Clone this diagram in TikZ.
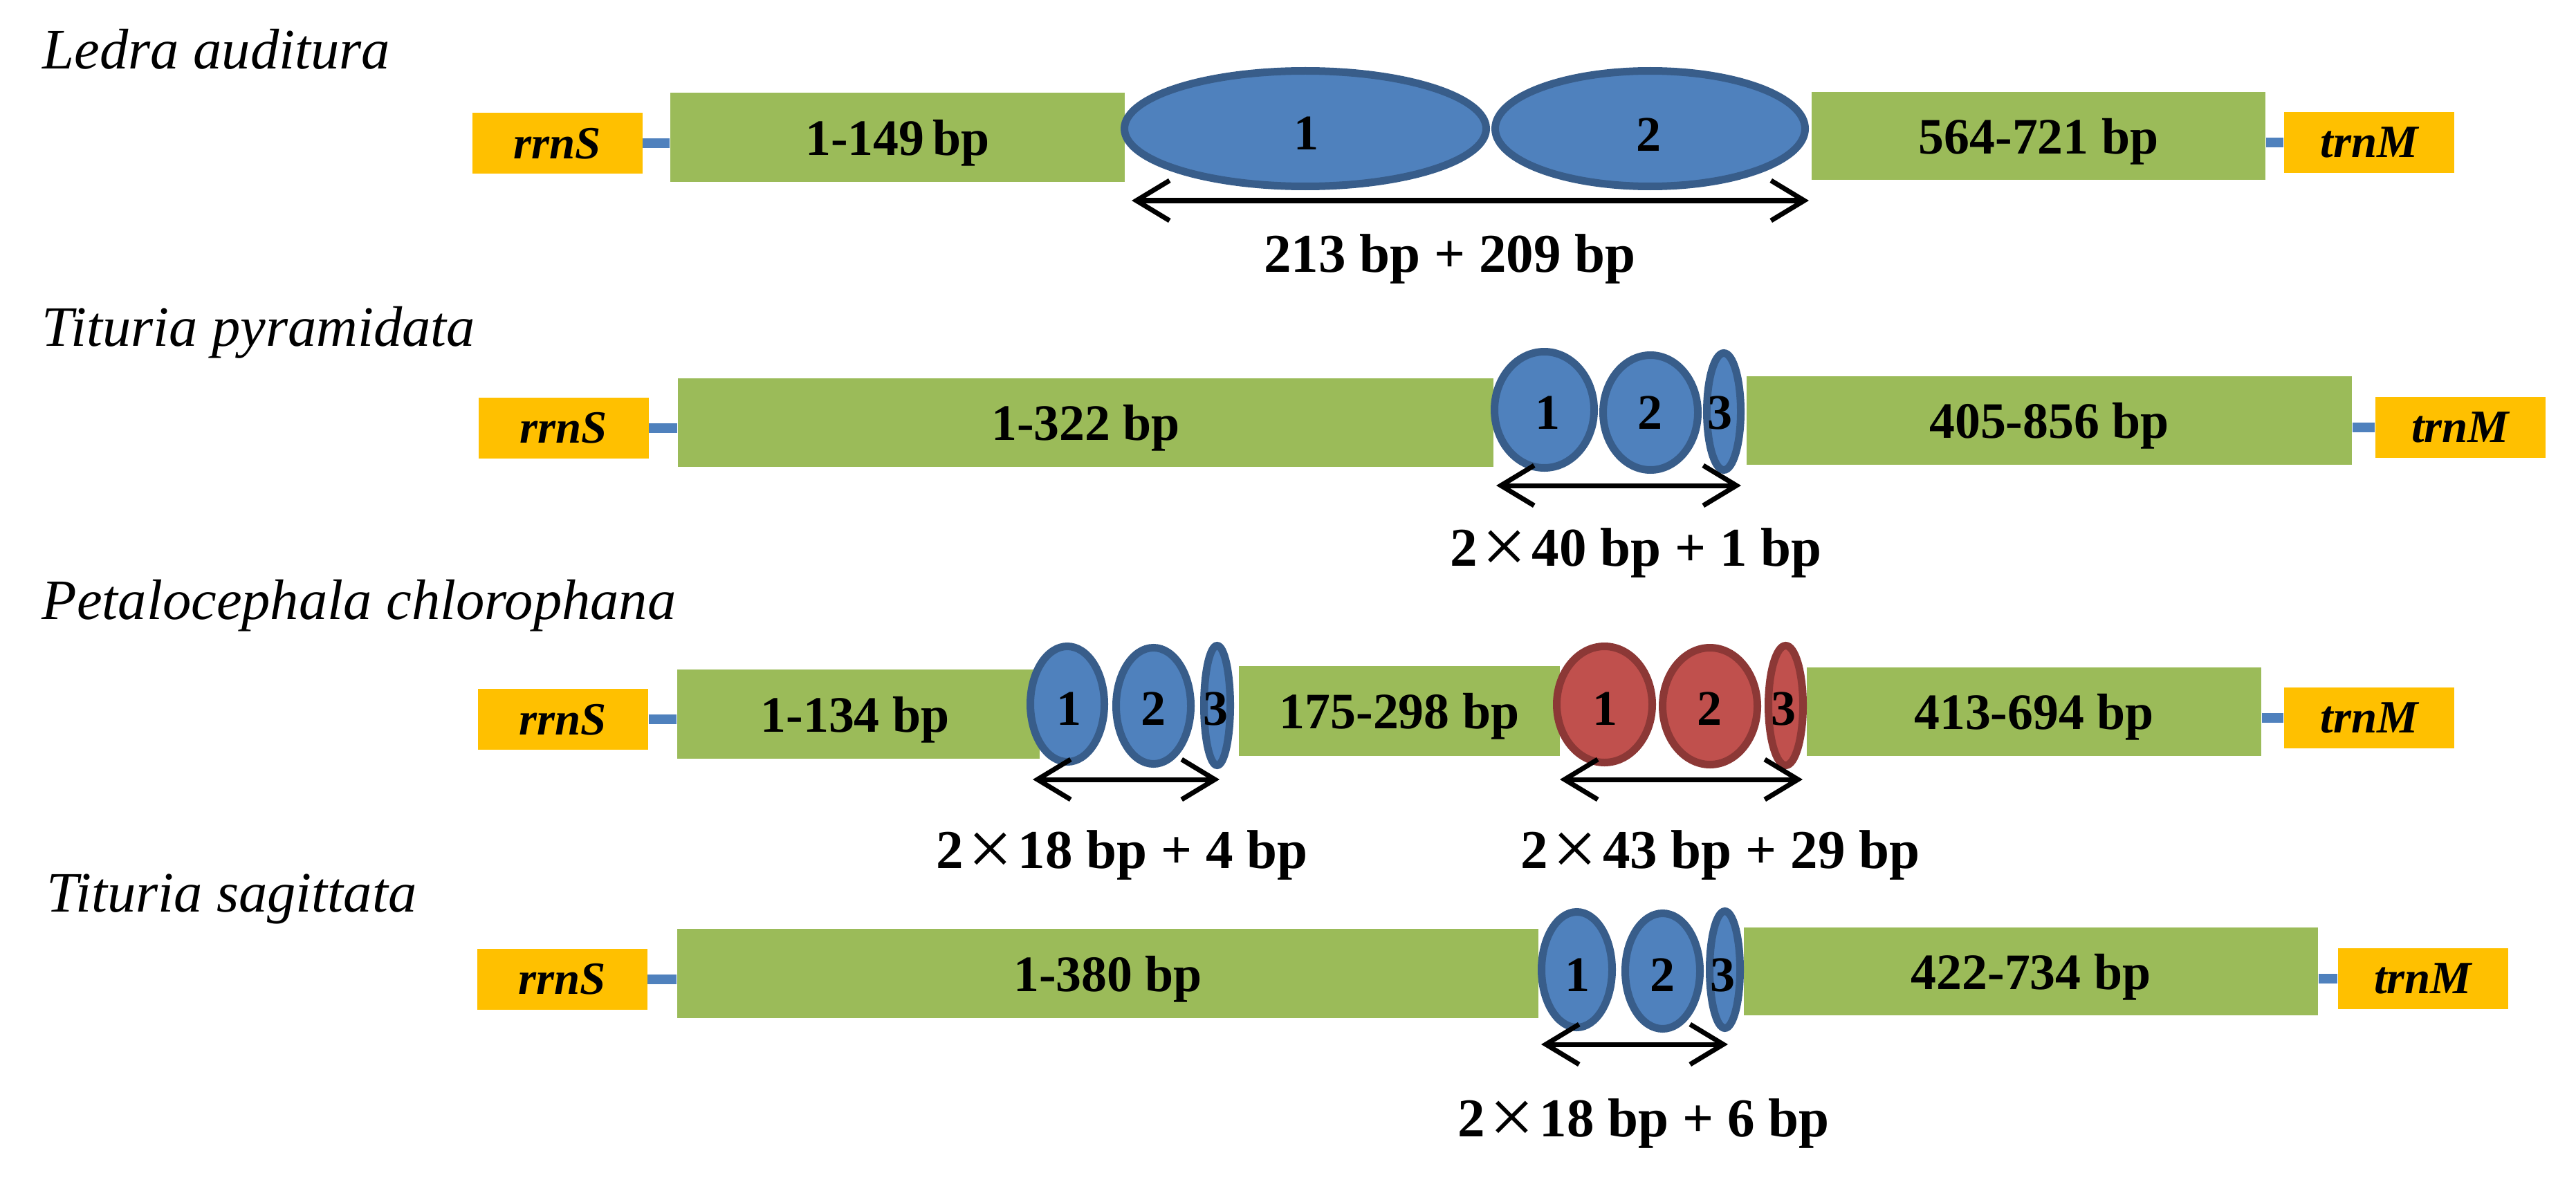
\documentclass[tikz,border=0pt]{standalone}
\usepackage{fontspec}
\setmainfont{Liberation Serif}
\usetikzlibrary{shapes.geometric,arrows.meta}
\definecolor{gfill}{HTML}{9BBB59}
\definecolor{yfill}{HTML}{FFC000}
\definecolor{bfill}{HTML}{4F81BD}
\definecolor{bline}{HTML}{385D8A}
\definecolor{rfill}{HTML}{C0504D}
\definecolor{rline}{HTML}{8C3836}
\tikzset{
  gbox/.style={rectangle, fill=gfill, draw=none, inner sep=0pt, text depth=0pt,
    font=\fontsize{21}{21}\selectfont\bfseries},
  gene/.style={rectangle, fill=yfill, draw=none, inner sep=0pt, text depth=0pt,
    minimum width=2.46cm, minimum height=0.88cm,
    font=\fontsize{19}{19}\selectfont\bfseries\itshape},
  rep/.style={ellipse, fill=bfill, draw=bline, line width=0.11cm, inner sep=0pt},
  redrep/.style={rep, fill=rfill, draw=rline},
  num/.style={inner sep=0pt, text depth=0pt, font=\fontsize{20.5}{20.5}\selectfont\bfseries},
  link/.style={draw=bfill, line width=0.14cm},
  dimarrow/.style={line width=0.07cm,
    {Straight Barb[length=0.48cm,width=0.58cm]}-{Straight Barb[length=0.48cm,width=0.58cm]}},
  title/.style={anchor=base west, inner sep=0pt, font=\fontsize{23.5}{23.5}\selectfont\itshape},
  dimlab/.style={anchor=base, inner sep=0pt, font=\fontsize{22.5}{22.5}\selectfont\bfseries}
}
\newcommand{\tms}{\hspace{0.08em}\raisebox{-0.13em}{\scalebox{1.45}{\mdseries ×}}\hspace{0.1em}}
\begin{document}
\begin{tikzpicture}[x=1cm,y=-1cm]
\useasboundingbox (0,0) rectangle (37.24,17.09);

% ---------------- Row 1: Ledra auditura ----------------
\node[title] (t1) at (0.61,1.00) {Ledra auditura};
\node[gbox, minimum width=6.57cm, minimum height=1.29cm] (g11) at (12.975,1.985) {1-149\,bp};
\node[gbox, minimum width=6.56cm, minimum height=1.27cm] (g12) at (29.47,1.965) {564-721 bp};
\node[gene] (rs1) at (8.055,2.07) {rrnS};
\node[gene] (tm1) at (34.25,2.06) {trnM};
\draw[link] (rs1.east) -- (rs1.east -| g11.west);
\draw[link] (tm1.west -| g12.east) -- (tm1.west);
\node[rep, minimum width=5.23cm, minimum height=1.67cm] (e11) at (18.87,1.86) {};
\node[rep, minimum width=4.48cm, minimum height=1.67cm] (e12) at (23.855,1.86) {};
\node[num] (n11) at (18.88,1.93) {1};
\node[num] (n12) at (23.83,1.95) {2};
\coordinate (a1l) at (16.36,2.90);
\coordinate (a1r) at (26.15,2.90);
\draw[dimarrow] (a1l) -- (a1r);
\node[dimlab] (d1) at (20.96,3.93) {213 bp + 209 bp};

% ---------------- Row 2: Tituria pyramidata ----------------
\node[title] (t2) at (0.60,5.00) {Tituria pyramidata};
\node[gbox, minimum width=11.79cm, minimum height=1.28cm] (g21) at (15.695,6.11) {1-322 bp};
\node[gbox, minimum width=8.75cm, minimum height=1.28cm] (g22) at (29.625,6.08) {405-856 bp};
\node[gene] (rs2) at (8.145,6.185) {rrnS};
\node[gene] (tm2) at (35.565,6.175) {trnM};
\draw[link] (rs2.east) -- (rs2.east -| g21.west);
\draw[link] (tm2.west -| g22.east) -- (tm2.west);
\node[rep, minimum width=1.44cm, minimum height=1.68cm] (e21) at (22.325,5.925) {};
\node[rep, minimum width=1.37cm, minimum height=1.66cm] (e22) at (23.86,5.965) {};
\node[rep, minimum width=0.49cm, minimum height=1.69cm] (e23) at (24.92,5.95) {};
\node[num] (n21) at (22.37,5.97) {1};
\node[num] (n22) at (23.85,5.97) {2};
\node[num] (n23) at (24.86,5.97) {3};
\coordinate (a2l) at (21.63,7.02);
\coordinate (a2r) at (25.17,7.02);
\draw[dimarrow] (a2l) -- (a2r);
\node[dimlab] (d2) at (23.65,8.18) {2\tms40 bp + 1 bp};

% ---------------- Row 3: Petalocephala chlorophana ----------------
\node[title] (t3) at (0.60,8.95) {Petalocephala chlorophana};
\node[gbox, minimum width=5.24cm, minimum height=1.29cm] (g31) at (12.41,10.325) {\hspace*{-0.1cm}1-134 bp};
\node[gbox, minimum width=4.64cm, minimum height=1.30cm] (g32) at (20.23,10.28) {175-298 bp};
\node[gbox, minimum width=6.57cm, minimum height=1.28cm] (g33) at (29.405,10.29) {413-694 bp};
\node[gene] (rs3) at (8.14,10.40) {rrnS};
\node[gene] (tm3) at (34.25,10.38) {trnM};
\draw[link] (rs3.east) -- (rs3.east -| g31.west);
\draw[link] (tm3.west -| g33.east) -- (tm3.west);
\node[rep, minimum width=1.07cm, minimum height=1.67cm] (e31) at (15.43,10.18) {};
\node[rep, minimum width=1.08cm, minimum height=1.68cm] (e32) at (16.675,10.205) {};
\node[rep, minimum width=0.38cm, minimum height=1.73cm] (e33) at (17.595,10.20) {};
\node[num] (n31) at (15.45,10.25) {1};
\node[num] (n32) at (16.67,10.25) {2};
\node[num] (n33) at (17.57,10.25) {3};
\node[redrep, minimum width=1.38cm, minimum height=1.68cm] (r31) at (23.195,10.185) {};
\node[redrep, minimum width=1.37cm, minimum height=1.69cm] (r32) at (24.72,10.21) {};
\node[redrep, minimum width=0.50cm, minimum height=1.73cm] (r33) at (25.815,10.20) {};
\node[num] (m31) at (23.20,10.25) {1};
\node[num] (m32) at (24.71,10.25) {2};
\node[num] (m33) at (25.78,10.25) {3};
\coordinate (a3l) at (14.93,11.27);
\coordinate (a3r) at (17.63,11.27);
\draw[dimarrow] (a3l) -- (a3r);
\node[dimlab] (d3) at (16.22,12.55) {2\tms18 bp + 4 bp};
\coordinate (a4l) at (22.55,11.27);
\coordinate (a4r) at (26.06,11.27);
\draw[dimarrow] (a4l) -- (a4r);
\node[dimlab] (d4) at (24.87,12.55) {2\tms43 bp + 29 bp};

% ---------------- Row 4: Tituria sagittata ----------------
\node[title] (t4) at (0.67,13.18) {Tituria sagittata};
\node[gbox, minimum width=12.45cm, minimum height=1.29cm] (g41) at (16.015,14.075) {1-380 bp};
\node[gbox, minimum width=8.30cm, minimum height=1.27cm] (g42) at (29.36,14.045) {422-734 bp};
\node[gene] (rs4) at (8.125,14.155) {rrnS};
\node[gene] (tm4) at (35.025,14.145) {trnM};
\draw[link] (rs4.east) -- (rs4.east -| g41.west);
\draw[link] (tm4.west -| g42.east) -- (tm4.west);
\node[rep, minimum width=1.02cm, minimum height=1.67cm] (e41) at (22.795,14.02) {};
\node[rep, minimum width=1.08cm, minimum height=1.67cm] (e42) at (24.035,14.04) {};
\node[rep, minimum width=0.44cm, minimum height=1.69cm] (e43) at (24.935,14.02) {};
\node[num] (n41) at (22.80,14.10) {1};
\node[num] (n42) at (24.03,14.10) {2};
\node[num] (n43) at (24.90,14.10) {3};
\coordinate (a5l) at (22.28,15.10);
\coordinate (a5r) at (24.98,15.10);
\draw[dimarrow] (a5l) -- (a5r);
\node[dimlab] (d5) at (23.76,16.43) {2\tms18 bp + 6 bp};
\end{tikzpicture}
\end{document}
